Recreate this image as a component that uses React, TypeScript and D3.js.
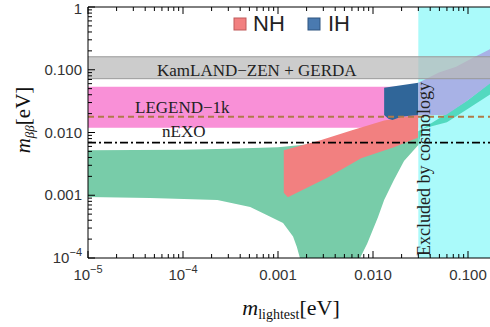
import React from 'react';
import * as d3 from 'd3';

const W = 490;
const H = 327;
const left = 88, top = 7, bottom = 258, right = 496.6;

// axis ticks
const xTicks = [1e-5, 1e-4, 1e-3, 1e-2, 1e-1];
const xTickLabels = ['10^−5', '10^−4', '0.001', '0.010', '0.100'];
const yTicks = [1e-4, 1e-3, 1e-2, 1e-1, 1];
const yTickLabels = ['10^−4', '0.001', '0.010', '0.100', '1'];

// experimental limits / sensitivities [eV]
const kamlandBand = [0.072, 0.161];
const legendBand = [0.0119, 0.0536];
const legendLine = 0.0178;
const nexoLine = 0.0069;
const cosmoLimit = 0.03;

// scatter regions, [m_lightest, m_bb]
const greenUpper = [[1e-5, 0.0052], [1e-4, 0.0053], [3e-4, 0.0055], [1e-3, 0.0058], [0.0033, 0.0069], [0.0095, 0.008], [0.03, 0.0105], [0.06, 0.02], [0.1, 0.033], [0.2, 0.075]];
const greenLower = [[1e-5, 0.00094], [4.5e-5, 0.0009], [2.3e-4, 0.00084], [5.1e-4, 0.00065], [7.7e-4, 0.00048], [1.13e-3, 0.00036], [1.44e-3, 0.00022], [1.58e-3, 0.00015], [1.7e-3, 1e-4], [0.0073, 1e-4], [0.0087, 0.00017], [0.0113, 0.00045], [0.0131, 0.00084], [0.0166, 0.00175], [0.0212, 0.0035], [0.03, 0.0063], [0.033, 0.0115], [0.06, 0.0145], [0.1, 0.024], [0.2, 0.047]];
const nhUpper = [[0.00115, 0.0052], [0.0028, 0.0075], [0.0059, 0.0108], [0.0131, 0.0155], [0.03, 0.0192]];
const nhLower = [[0.00115, 0.0011], [0.00127, 0.00093], [0.0033, 0.0019], [0.0075, 0.0039], [0.0166, 0.0058], [0.03, 0.0083]];
const ihUpper = [[0.0131, 0.0516], [0.03, 0.062], [0.0495, 0.09], [0.075, 0.112], [0.113, 0.155], [0.166, 0.209], [0.2, 0.245]];
const ihLower = [[0.0131, 0.019], [0.0145, 0.0165], [0.016, 0.0158], [0.02, 0.0178], [0.03, 0.019], [0.0586, 0.019], [0.095, 0.031], [0.175, 0.062], [0.2, 0.072]];

const x = d3.scaleLog().domain([1e-5, 0.2]).range([left, right]);
const y = d3.scaleLog().domain([1e-4, 1]).range([bottom, top]);

const line = d3.line<number[]>().x(d => x(d[0])).y(d => y(d[1]));
const region = (up: number[][], lo: number[][]) => line([...up, ...lo.slice().reverse()]) + 'Z';

const sans = '"Liberation Sans", Arial, sans-serif';
const serif = '"Liberation Serif", "Times New Roman", serif';

function TickLabel({ label, px, py, anchor }: { label: string; px: number; py: number; anchor: string }) {
  const [base, sup] = label.split('^');
  return (
    <text x={px} y={py} textAnchor={anchor} fontFamily={sans} fontSize={15} fill="#333">
      {base}
      {sup && <tspan dy={-7} fontSize={11}>{sup}</tspan>}
    </text>
  );
}

export default function App() {
  const minorX = x.ticks().filter(t => t >= 1e-5 && t <= 0.2);
  const minorY = y.ticks();
  const xc = x(cosmoLimit);
  return (
    <svg width={W} height={H} style={{ position: 'absolute', left: 0, top: 0, background: '#fff' }}>
      <defs>
        <clipPath id="plot"><rect x={left} y={top} width={right - left} height={bottom - top} /></clipPath>
        <clipPath id="allowed"><rect x={left} y={top} width={xc - left} height={bottom - top} /></clipPath>
        <clipPath id="excluded"><rect x={xc} y={top} width={right - xc} height={bottom - top} /></clipPath>
      </defs>
      <g clipPath="url(#plot)">
        <rect x={left} y={y(legendBand[1])} width={xc - left} height={y(legendBand[0]) - y(legendBand[1])} fill="#f87dd0" opacity={0.85} />
        <rect x={xc} y={top} width={right - xc} height={bottom - top} fill="#aafafa" />
        <g clipPath="url(#allowed)">
          <path d={region(greenUpper, greenLower)} fill="#78cca9" />
          <path d={region(nhUpper, nhLower)} fill="#f28080" />
          <path d={region(ihUpper, ihLower)} fill="#306699" />
        </g>
        <g clipPath="url(#excluded)">
          <path d={region(greenUpper, greenLower)} fill="#52d9bf" />
          <path d={region(ihUpper, ihLower)} fill="#a8b2e6" />
        </g>
        <rect x={left} y={y(kamlandBand[1])} width={right - left} height={y(kamlandBand[0]) - y(kamlandBand[1])} fill="#b9b9b9" opacity={0.72} />
        <line x1={left} x2={right} y1={y(kamlandBand[1])} y2={y(kamlandBand[1])} stroke="#999" strokeWidth={1} />
        <line x1={left} x2={right} y1={y(kamlandBand[0])} y2={y(kamlandBand[0])} stroke="#999" strokeWidth={1} />
        <line x1={left} x2={right} y1={y(legendLine)} y2={y(legendLine)} stroke="#b07a48" strokeWidth={2} strokeDasharray="6,4" />
        <line x1={left} x2={right} y1={y(nexoLine)} y2={y(nexoLine)} stroke="#000" strokeWidth={1.6} strokeDasharray="8,3,2,3" />
      </g>

      <text x={157} y={76} fontFamily={serif} fontSize={17} fill="#222">KamLAND−ZEN + GERDA</text>
      <text x={135} y={113} fontFamily={serif} fontSize={17} fill="#222">LEGEND−1k</text>
      <text x={162} y={137} fontFamily={serif} fontSize={17} fill="#222">nEXO</text>
      <text transform={`translate(${xc + 12},256) rotate(-90)`} fontFamily={serif} fontSize={18} fill="#222">Excluded by cosmology</text>

      <rect x={234} y={18} width={12} height={12} fill="#f28080" stroke="#c05a5a" />
      <text x={253} y={31} fontFamily={sans} fontSize={22} fill="#222">NH</text>
      <rect x={308} y={18} width={12} height={12} fill="#4a7ab0" stroke="#2f5580" />
      <text x={328} y={31} fontFamily={sans} fontSize={22} fill="#222">IH</text>

      {/* frame */}
      <line x1={left} x2={W} y1={top} y2={top} stroke="#000" />
      <line x1={left} x2={W} y1={bottom} y2={bottom} stroke="#000" />
      <line x1={left} x2={left} y1={top} y2={bottom} stroke="#000" />

      {minorX.map((t, i) => {
        const major = xTicks.some(m => Math.abs(Math.log10(m) - Math.log10(t)) < 1e-6);
        const l = major ? 7 : 4;
        return (
          <g key={'x' + i} stroke="#000">
            <line x1={x(t)} x2={x(t)} y1={bottom} y2={bottom - l} />
            <line x1={x(t)} x2={x(t)} y1={top} y2={top + l} />
          </g>
        );
      })}
      {minorY.map((t, i) => {
        const major = yTicks.some(m => Math.abs(Math.log10(m) - Math.log10(t)) < 1e-6);
        return <line key={'y' + i} x1={left} x2={left + (major ? 7 : 4)} y1={y(t)} y2={y(t)} stroke="#000" />;
      })}
      {xTicks.map((t, i) => (
        <TickLabel key={'xl' + i} label={xTickLabels[i]} px={x(t)} py={280} anchor="middle" />
      ))}
      {yTicks.map((t, i) => (
        <TickLabel key={'yl' + i} label={yTickLabels[i]} px={82} py={Math.max(y(t) + 5, 14)} anchor="end" />
      ))}

      <text x={291} y={315} textAnchor="middle" fontFamily={serif} fontSize={22} fill="#111">
        <tspan fontStyle="italic">m</tspan>
        <tspan fontSize={14} dy={4}>lightest</tspan>
        <tspan dy={-4}>[eV]</tspan>
      </text>
      <text transform="translate(30,120) rotate(-90)" textAnchor="middle" fontFamily={serif} fontSize={21} fill="#111">
        <tspan fontStyle="italic">m</tspan>
        <tspan fontSize={13} fontStyle="italic" dy={4}>ββ</tspan>
        <tspan dy={-4}>[eV]</tspan>
      </text>
    </svg>
  );
}
